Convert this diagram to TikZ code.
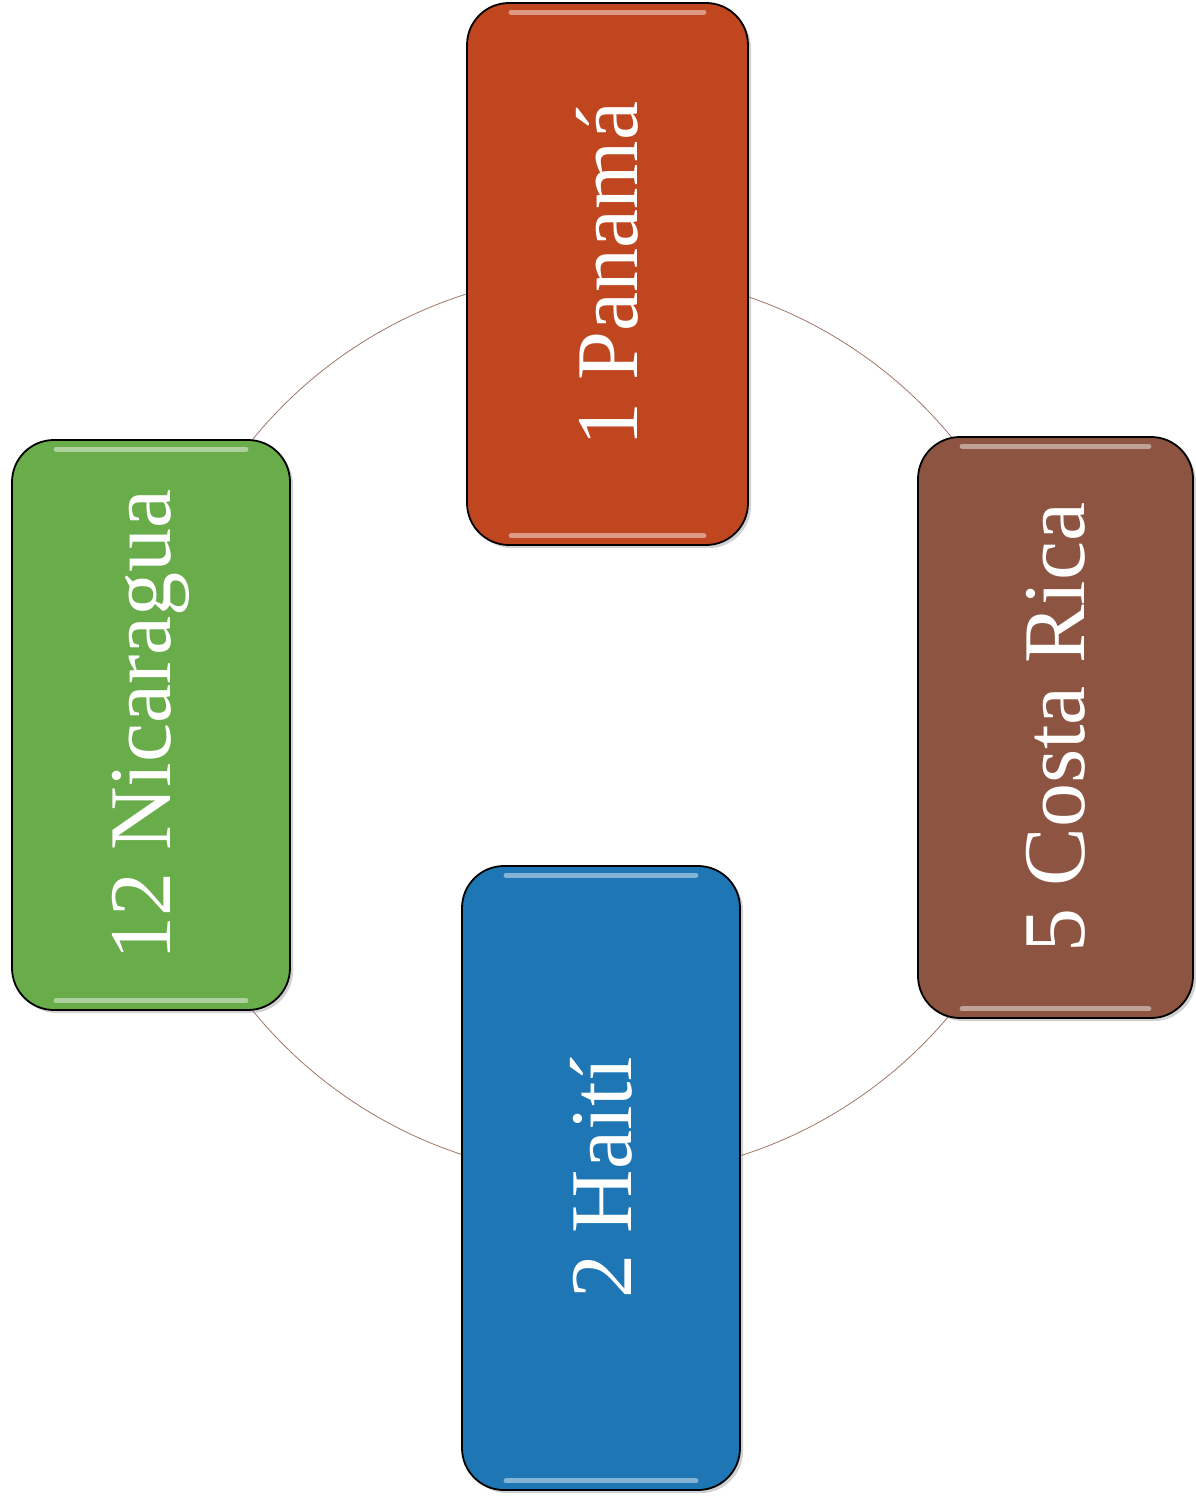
\documentclass[tikz,border=0pt]{standalone}
\usepackage{fontspec}
\setmainfont{Liberation Serif}
\usetikzlibrary{shadows,calc}
\definecolor{panc}{HTML}{C0461F}
\definecolor{cosc}{HTML}{8C5441}
\definecolor{nicc}{HTML}{69AD4B}
\definecolor{haic}{HTML}{1E77B4}
\definecolor{ringc}{HTML}{A07868}
\tikzset{
  cbox/.style={draw=black, line width=1.8pt, rounded corners=42pt, inner sep=0pt,
    text=white, font=\fontsize{88}{100}\selectfont,
    drop shadow={shadow xshift=3pt, shadow yshift=-3pt, opacity=0.35}},
  gloss/.style={draw=white, line width=5pt, line cap=round, opacity=0.45},
  ring/.style={draw=ringc, line width=0.8pt}
}
\newcommand{\glossy}[1]{%
  \draw[gloss] ($(#1.north west)+(45,10)$) -- ($(#1.north east)+(-45,10)$);
  \draw[gloss] ($(#1.south west)+(45,-10)$) -- ($(#1.south east)+(-45,-10)$);}
\begin{document}
\begin{tikzpicture}[x=1pt,y=-1pt]
\useasboundingbox[fill=white] (0,0) rectangle (1196,1499);
\coordinate (c) at (603,725);
\draw[ring] (c) circle (452);
\node[cbox, fill=panc, minimum width=281pt, minimum height=542pt] (pan) at (607.5,274) {\rotatebox{90}{1 Panamá}};
\node[cbox, fill=cosc, minimum width=275pt, minimum height=581pt] (cos) at (1055.5,727.5) {\rotatebox{90}{5 Costa Rica}};
\node[cbox, fill=nicc, minimum width=278pt, minimum height=570pt] (nic) at (151,725) {\rotatebox{90}{12 Nicaragua}};
\node[cbox, fill=haic, minimum width=278pt, minimum height=624pt] (hai) at (601,1178) {\rotatebox{90}{2 Haití}};
\glossy{pan}
\glossy{cos}
\glossy{nic}
\glossy{hai}
\end{tikzpicture}
\end{document}
